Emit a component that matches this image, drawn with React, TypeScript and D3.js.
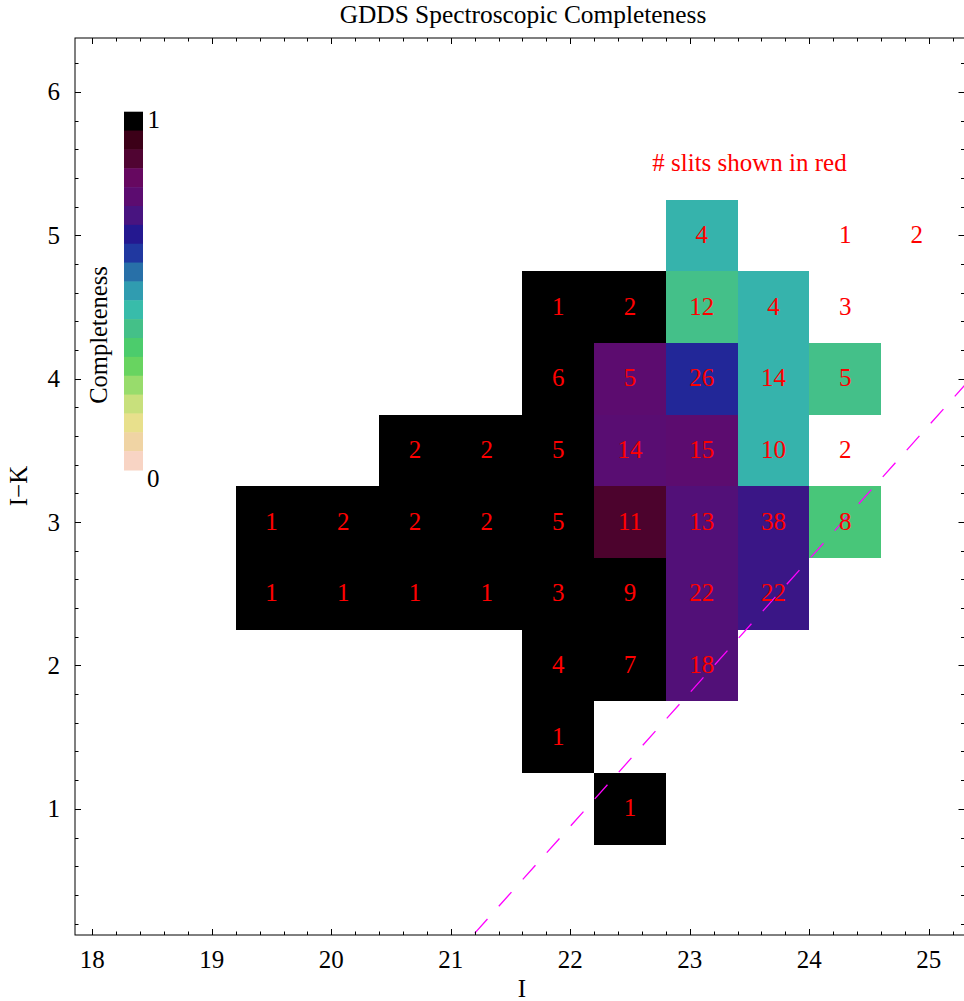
import React from "react";
import * as d3 from "d3";

// ---- data ----
const barColors = [
  "#000000", "#3c0018", "#500432", "#660860", "#5c0c70", "#481480", "#241890",
  "#2038a0", "#2870a8", "#309cb0", "#38bcaa", "#44c088", "#4ccc6c", "#68d460",
  "#98dc6c", "#c8e07c", "#e8e08c", "#f0d4a4", "#f8d4c4",
];
const barValues = barColors.map((_, i) => 1 - i / 18);

const binI = [
  23.1, 24.3, 24.9,
  21.9, 22.5, 23.1, 23.7, 24.3,
  21.9, 22.5, 23.1, 23.7, 24.3,
  20.7, 21.3, 21.9, 22.5, 23.1, 23.7, 24.3,
  19.5, 20.1, 20.7, 21.3, 21.9, 22.5, 23.1, 23.7, 24.3,
  19.5, 20.1, 20.7, 21.3, 21.9, 22.5, 23.1, 23.7,
  21.9, 22.5, 23.1,
  21.9,
  22.5,
];
const binIK = [
  5.0, 5.0, 5.0,
  4.5, 4.5, 4.5, 4.5, 4.5,
  4.0, 4.0, 4.0, 4.0, 4.0,
  3.5, 3.5, 3.5, 3.5, 3.5, 3.5, 3.5,
  3.0, 3.0, 3.0, 3.0, 3.0, 3.0, 3.0, 3.0, 3.0,
  2.5, 2.5, 2.5, 2.5, 2.5, 2.5, 2.5, 2.5,
  2.0, 2.0, 2.0,
  1.5,
  1.0,
];
const completeness = [
  0.46, 0, 0,
  1, 1, 0.39, 0.46, 0,
  1, 0.78, 0.64, 0.46, 0.39,
  1, 1, 1, 0.77, 0.78, 0.46, 0,
  1, 1, 1, 1, 1, 0.9, 0.75, 0.7, 0.36,
  1, 1, 1, 1, 1, 1, 0.75, 0.7,
  1, 1, 0.75,
  1,
  1,
];
const slits = [
  4, 1, 2,
  1, 2, 12, 4, 3,
  6, 5, 26, 14, 5,
  2, 2, 5, 14, 15, 10, 2,
  1, 2, 2, 2, 5, 11, 13, 38, 8,
  1, 1, 1, 1, 3, 9, 22, 22,
  4, 7, 18,
  1,
  1,
];

const xTicks = [18, 19, 20, 21, 22, 23, 24, 25];
const yTicks = [1, 2, 3, 4, 5, 6];
const limitLineI = [21.0, 25.5];
const limitLineIK = [-0.054, 4.14];

const binW = 0.6;
const binH = 0.5;

export default function App() {
  const W = 964, H = 1001;
  const left = 75, right = 964.5, top = 38, bottom = 935;
  const x = d3.scaleLinear().domain([17.855, 25.299]).range([left, right]);
  const y = d3.scaleLinear().domain([0.12, 6.3766]).range([bottom, top]);
  const color = d3.scaleLinear<string>().domain(barValues).range(barColors).interpolate(d3.interpolateRgb);

  const font = "'Liberation Serif', 'DejaVu Serif', serif";
  const fs = 25;

  const xMinor = d3.range(17.8, 25.31, 0.2).map(v => +v.toFixed(2)).filter(v => v >= 17.855 && v <= 25.299);
  const yMinor = d3.range(0.2, 6.4, 0.2).map(v => +v.toFixed(2)).filter(v => v >= 0.12 && v <= 6.3766);
  const isMajor = (v: number) => Math.abs(v - Math.round(v)) < 1e-6;

  const cbTop = 111.7, cbBottom = 470, cbLeft = 124, cbW = 19;
  const cb = d3.scaleBand<number>().domain(d3.range(barColors.length)).range([cbTop, cbBottom]);

  const line = d3.line<number>().x((_, i) => x(limitLineI[i])).y((_, i) => y(limitLineIK[i]));

  return (
    <svg width={W} height={H} style={{ position: "absolute", left: 0, top: 0, background: "#fff" }} fontFamily={font}>
      <defs>
        <clipPath id="plotclip">
          <rect x={left} y={top} width={right - left} height={bottom - top} />
        </clipPath>
      </defs>
      <text x={523} y={23} textAnchor="middle" fontSize={25.4} fill="#000">GDDS Spectroscopic Completeness</text>

      {/* cells */}
      <g>
        {binI.map((v, i) => completeness[i] > 0 ? (
          <rect key={"c" + i}
            x={x(v - binW / 2)} y={y(binIK[i] + binH / 2)}
            width={x(v + binW / 2) - x(v - binW / 2)} height={y(binIK[i] - binH / 2) - y(binIK[i] + binH / 2)}
            fill={color(completeness[i])} shapeRendering="crispEdges" />
        ) : null)}
      </g>

      {/* limit line */}
      <path d={line(limitLineI) || ""} fill="none" stroke="#ff00ff" strokeWidth={1.3} strokeDasharray="19,17" clipPath="url(#plotclip)" />

      {/* counts */}
      <g>
        {binI.map((v, i) => (
          <text key={"t" + i} x={x(v)} y={y(binIK[i]) + 7.5} textAnchor="middle" fontSize={fs} fill="#ff0000">{slits[i]}</text>
        ))}
      </g>
      <text x={749.5} y={171} textAnchor="middle" fontSize={fs} fill="#ff0000"># slits shown in red</text>

      {/* colorbar */}
      <g>
        {barColors.map((c, i) => (
          <rect key={"b" + i} x={cbLeft} y={cb(i)} width={cbW} height={cb.bandwidth() + 0.5} fill={c} />
        ))}
        <text x={147.5} y={128.3} fontSize={fs} fill="#000">1</text>
        <text x={147} y={487} fontSize={fs} fill="#000">0</text>
        <text transform={`translate(107,335) rotate(-90)`} textAnchor="middle" fontSize={24.5} fill="#000">Completeness</text>
      </g>

      {/* frame */}
      <rect x={left} y={top} width={right - left} height={bottom - top} fill="none" stroke="#000" strokeWidth={1} />
      <g stroke="#000" strokeWidth={1}>
        {xMinor.map(v => {
          const L = isMajor(v) ? 6 : 3.5;
          const px = Math.round(x(v)) + 0.5;
          return (
            <g key={"xt" + v}>
              <line x1={px} x2={px} y1={bottom} y2={bottom - L} />
              <line x1={px} x2={px} y1={top} y2={top + L} />
            </g>
          );
        })}
        {yMinor.map(v => {
          const L = isMajor(v) ? 6 : 3.5;
          const py = Math.round(y(v)) + 0.5;
          return (
            <g key={"yt" + v}>
              <line x1={left} x2={left + L} y1={py} y2={py} />
              <line x1={right} x2={right - L} y1={py} y2={py} />
            </g>
          );
        })}
      </g>
      <g fontSize={fs} fill="#000">
        {xTicks.map(v => (
          <text key={"xl" + v} x={x(v)} y={968} textAnchor="middle">{v}</text>
        ))}
        {yTicks.map(v => (
          <text key={"yl" + v} x={60} y={y(v) + 8.5} textAnchor="end">{v}</text>
        ))}
      </g>
      <text x={522} y={997} textAnchor="middle" fontSize={fs} fill="#000">I</text>
      <text transform={`translate(27,486) rotate(-90)`} textAnchor="middle" fontSize={fs} fill="#000">I−K</text>
    </svg>
  );
}
